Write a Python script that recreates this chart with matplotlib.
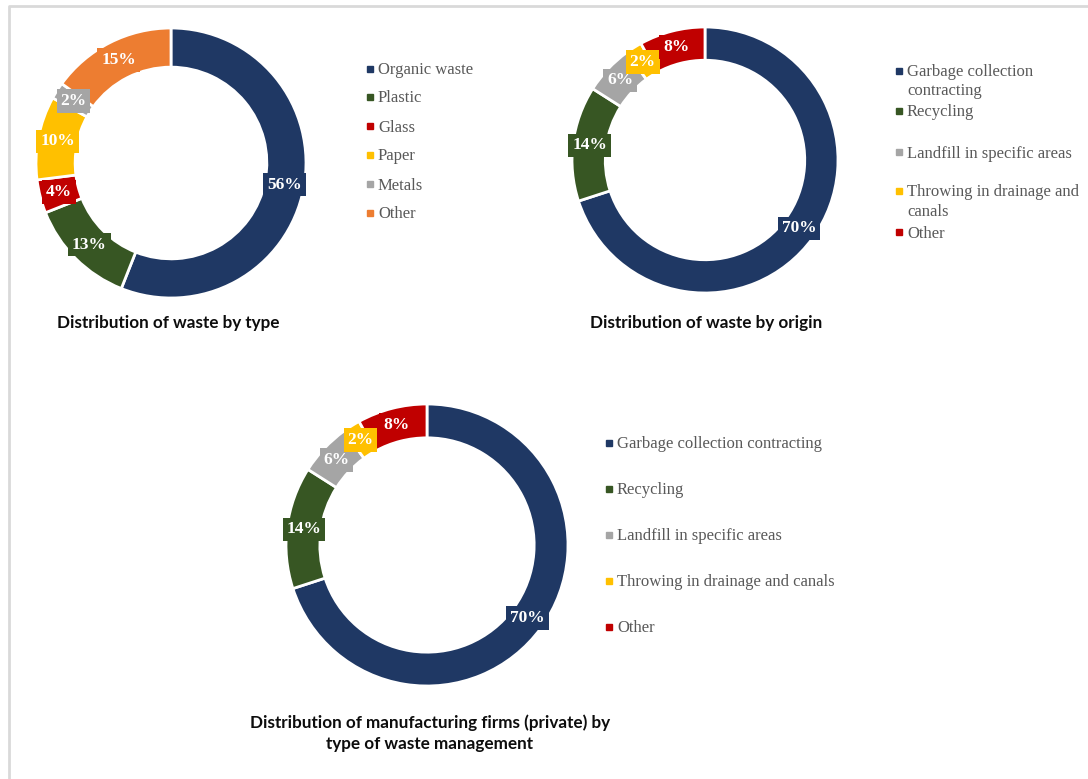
import numpy as np
import matplotlib.pyplot as plt
from matplotlib.lines import Line2D

W, H = 1088, 779

# waste by type
type_labels = ["Organic waste", "Plastic", "Glass", "Paper", "Metals", "Other"]
type_values = [56, 13, 4, 10, 2, 15]
type_colors = ["#1F3864", "#375623", "#C00000", "#FFC000", "#A5A5A5", "#ED7D31"]

# waste by origin
origin_labels = ["Garbage collection\ncontracting", "Recycling",
                 "Landfill in specific areas", "Throwing in drainage and\ncanals", "Other"]
origin_values = [70, 14, 6, 2, 8]

# manufacturing firms (private) by type of waste management
firm_labels = ["Garbage collection contracting", "Recycling",
               "Landfill in specific areas", "Throwing in drainage and canals", "Other"]
firm_values = [70, 14, 6, 2, 8]

mgmt_colors = ["#1F3864", "#375623", "#A5A5A5", "#FFC000", "#C00000"]

serif = "Liberation Serif"
sans = "Lato"


def fx(x):
    return x / W


def fy(y):
    return 1 - y / H


def donut(fig, cx, cy, r, values, colors, width):
    ax = fig.add_axes([(cx - r) / W, 1 - (cy + r) / H, 2 * r / W, 2 * r / H])
    wedges, _ = ax.pie(values, colors=colors, startangle=90, counterclock=False,
                       radius=1, wedgeprops=dict(width=width, edgecolor="white", linewidth=2))
    ax.set_xlim(-1, 1)
    ax.set_ylim(-1, 1)
    ax.axis("off")
    mid_r = 1 - width / 2
    for w, v, c in zip(wedges, values, colors):
        ang = np.deg2rad((w.theta1 + w.theta2) / 2)
        ax.text(mid_r * np.cos(ang), mid_r * np.sin(ang), f"{v}%",
                ha="center", va="center", color="white", fontsize=12.5,
                fontweight="bold", family=serif,
                bbox=dict(boxstyle="square,pad=0.22", fc=c, ec="none"))
    return ax


def legend(fig, x, rows, labels, colors):
    # rows: (marker y, text y) in pixels
    for (my, ty), lab, c in zip(rows, labels, colors):
        fig.add_artist(Line2D([fx(x)], [fy(my)], marker="s", markersize=4.5,
                              color=c, linestyle="none"))
        fig.text(fx(x + 8), fy(ty + 1.5), lab, ha="left", va="center", family=serif,
                 fontsize=12, color="#595959", linespacing=1.3)


fig = plt.figure(figsize=(W / 100, H / 100), dpi=100)

# frame lines
fig.add_artist(Line2D([fx(9), fx(9), 1], [0, fy(6), fy(6)], color="#D9D9D9", lw=2))

donut(fig, 171, 163, 135, type_values, type_colors, 0.29)
donut(fig, 705, 160, 133, origin_values, mgmt_colors, 0.25)
donut(fig, 427, 545, 141, firm_values, mgmt_colors, 0.24)

legend(fig, 370, [(69, 69), (97, 97), (126, 126), (155, 155), (184, 184), (213, 213)],
       type_labels, type_colors)
legend(fig, 899, [(71, 80), (111, 111), (152, 152), (191, 200.5), (232, 232)],
       origin_labels, mgmt_colors)
legend(fig, 609, [(443, 443), (489, 489), (535, 535), (581, 581), (627, 627)],
       firm_labels, mgmt_colors)

title_kw = dict(ha="center", va="center", family=sans, fontweight="bold",
                fontsize=12.3, color="#0D0D0D")
fig.text(fx(168), fy(323), "Distribution of waste by type", **title_kw)
fig.text(fx(706), fy(323), "Distribution of waste by origin", **title_kw)
fig.text(fx(430), fy(733.5),
         "Distribution of manufacturing firms (private) by\ntype of waste management",
         linespacing=1.4, **title_kw)

fig.savefig("out.png", dpi=100)
